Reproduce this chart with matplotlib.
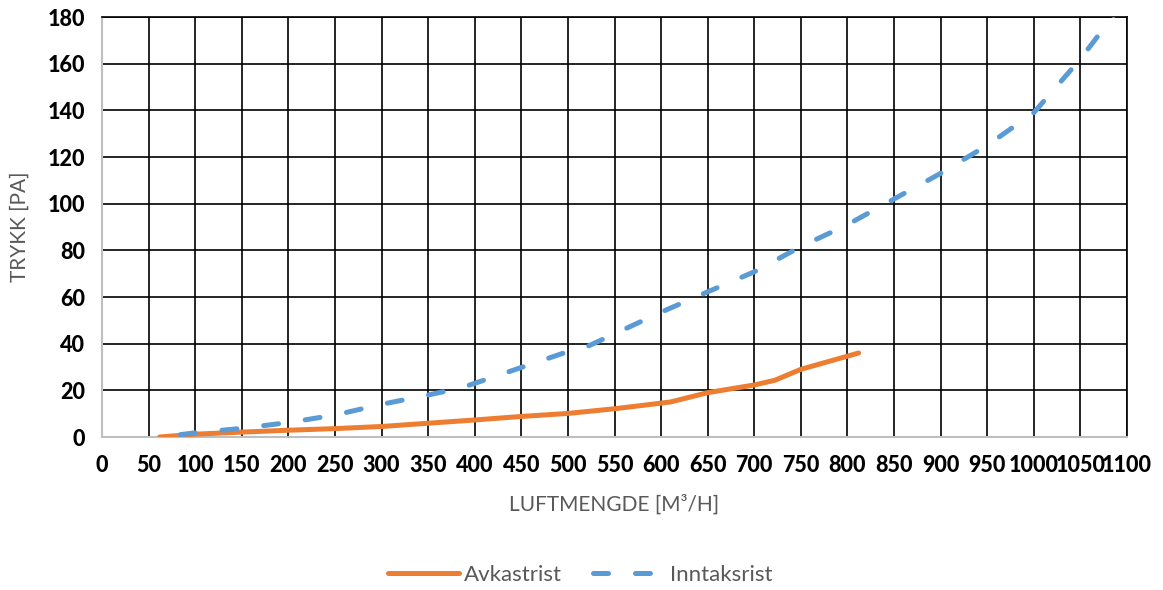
#!/usr/bin/env python3

'''Trykkfall over rist: avkast- og inntaksrist mot luftmengde.'''

import matplotlib as mpl
import matplotlib.pyplot as plt

# avlest fra referansen
avkast_x = [62, 100, 150, 200, 250, 300, 350, 400, 450, 500, 550, 610, 650, 700, 722, 750, 812]
avkast_y = [0, 1.2, 2.1, 2.9, 3.6, 4.5, 5.9, 7.3, 8.8, 10.1, 12.1, 15.0, 19.0, 22.3, 24.3, 29.0, 36.0]

inntak_x = [84, 100, 150, 200, 250, 300, 350, 385, 400, 450, 500, 522, 550, 600, 650, 700,
            750, 800, 850, 900, 950, 1000, 1050, 1090]
inntak_y = [1.0, 1.8, 3.7, 6.2, 9.4, 14.0, 18.0, 21.0, 23.0, 29.8, 36.6, 39.0, 44.2, 53.5,
            62.2, 70.8, 81.6, 91.0, 102.0, 113.0, 125.0, 139.0, 162.0, 183.0]

x_ticks = list(range(0, 1101, 50))
y_ticks = list(range(0, 181, 20))

ORANGE = '#ED7D31'
BLUE = '#5B9BD5'
GREY_TEXT = '#595959'


def do_plotting(savefig='out.png', dpi=100, l=1163, w=590):
    '''Lag figuren i samme stil som Excel-diagrammet.'''

    mpl.rcParams['font.family'] = ['Lato', 'DejaVu Sans']
    mpl.rcParams['lines.scale_dashes'] = False

    fig = plt.figure(figsize=(l / dpi, w / dpi), dpi=dpi)
    ax = fig.add_axes([102 / l, 1 - 437 / w, 1025 / l, 420 / w])

    ax.plot(avkast_x, avkast_y, color=ORANGE, lw=3.6, solid_capstyle='round',
            solid_joinstyle='round', label='Avkastrist', zorder=3)
    ax.plot(inntak_x, inntak_y, color=BLUE, lw=3.6, dashes=(10.8, 19.4),
            dash_capstyle='round', dash_joinstyle='round', label='Inntaksrist', zorder=3)

    ax.set_xlim(0, 1100)
    ax.set_ylim(0, 180)
    ax.set_xticks(x_ticks)
    ax.set_yticks(y_ticks)
    ax.grid(True, color='black', lw=1.2)
    ax.set_axisbelow(True)
    ax.tick_params(length=0, labelsize=15.5)
    ax.tick_params(axis='y', pad=12)
    ax.tick_params(axis='x', pad=13)
    for lab in ax.get_xticklabels() + ax.get_yticklabels():
        lab.set_fontweight('black')

    for side in ['left', 'bottom']:
        ax.spines[side].set_color('#BFBFBF')
        ax.spines[side].set_linewidth(1.5)
    for side in ['top', 'right']:
        ax.spines[side].set_color('black')
        ax.spines[side].set_linewidth(1.2)

    fig.text(614.5 / l, 1 - 505 / w, 'LUFTMENGDE [M³/H]', color=GREY_TEXT,
             fontsize=15, ha='center', va='center')
    fig.text(20 / l, 1 - 227 / w, 'TRYKK [PA]', color=GREY_TEXT, fontsize=15,
             ha='center', va='center', rotation=90)

    leg = fig.legend(loc='center', bbox_to_anchor=(580 / l, 1 - 575 / w), ncol=2,
                     frameon=False, fontsize=16, handlelength=3.2,
                     handletextpad=0.25, columnspacing=1.4)
    for txt in leg.get_texts():
        txt.set_color(GREY_TEXT)

    fig.savefig(savefig, dpi=dpi)
    plt.close(fig)


def main():
    do_plotting()


if __name__ == '__main__':
    main()
